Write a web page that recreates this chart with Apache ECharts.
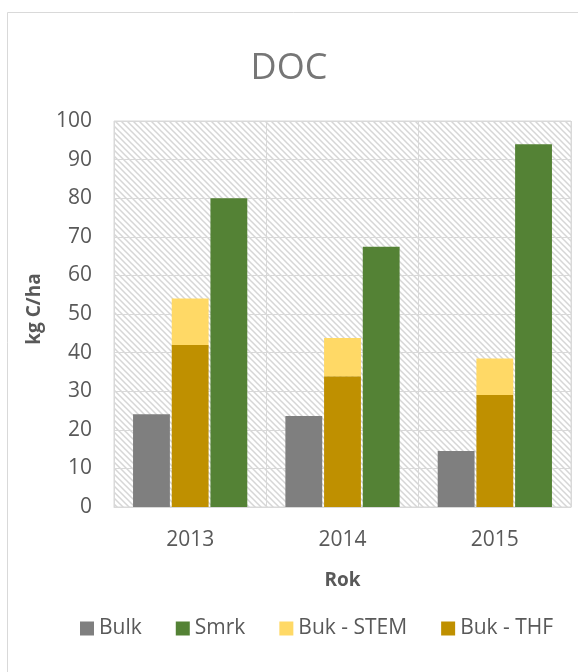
<!DOCTYPE html>
<html>
<head>
<meta charset="utf-8">
<title>DOC</title>
<script src="https://cdn.jsdelivr.net/npm/echarts@6/dist/echarts.min.js"></script>
<style>
  html, body { margin: 0; padding: 0; background: #ffffff; }
  #chart { width: 578px; height: 672px; }
</style>
</head>
<body>
<div id="chart"></div>
<script>
// Years on the category axis
var years = ['2013', '2014', '2015'];

// DOC flux, kg C/ha
var bulk = [24.0, 23.6, 14.5];
var smrk = [80.0, 67.4, 94.0];
var bukThf = [42.0, 33.9, 29.0];
var bukStem = [12.0, 9.9, 9.5];   // stacked on top of THF

// Value axis ticks
var yMin = 0;
var yMax = 100;
var yStep = 10;

var legendOrder = ['Bulk', 'Smrk', 'Buk - STEM', 'Buk - THF'];

// Diagonal hatch used as the plot-area fill
function hatchTile() {
  var size = 6;
  var c = document.createElement('canvas');
  c.width = size;
  c.height = size;
  var ctx = c.getContext('2d');
  ctx.fillStyle = '#ffffff';
  ctx.fillRect(0, 0, size, size);
  ctx.strokeStyle = '#d6d6d6';
  ctx.lineWidth = 1.5;
  ctx.beginPath();
  ctx.moveTo(-1, -1); ctx.lineTo(size + 1, size + 1);
  ctx.moveTo(-1, size - 1); ctx.lineTo(1, size + 1);
  ctx.moveTo(size - 1, -1); ctx.lineTo(size + 1, 1);
  ctx.stroke();
  return c;
}

var font = '"Open Sans", "Noto Sans", sans-serif';
var chart = echarts.init(document.getElementById('chart'), null, { renderer: 'canvas' });

chart.setOption({
  animation: false,
  backgroundColor: '#ffffff',
  textStyle: { fontFamily: font },
  graphic: [{
    type: 'rect',
    silent: true,
    z: -10,
    shape: { x: 7.5, y: 12.5, width: 700, height: 700 },
    style: { fill: 'none', stroke: '#d9d9d9', lineWidth: 1 }
  }],
  title: {
    text: 'DOC',
    left: 'center',
    top: 46,
    textStyle: { fontFamily: font, fontSize: 36, fontWeight: 'normal', color: '#767676' }
  },
  legend: {
    data: legendOrder,
    left: 80,
    top: 618,
    padding: 0,
    icon: 'rect',
    itemWidth: 14,
    itemHeight: 14,
    itemGap: 34,
    textStyle: { fontFamily: font, fontSize: 21, color: '#595959' }
  },
  grid: {
    left: 114,
    right: 7,
    top: 121,
    bottom: 165,
    show: true,
    backgroundColor: { image: hatchTile(), repeat: 'repeat' },
    borderColor: '#d9d9d9',
    borderWidth: 1
  },
  xAxis: {
    type: 'category',
    data: years,
    name: 'Rok',
    nameLocation: 'middle',
    nameGap: 64,
    nameTextStyle: { fontFamily: font, fontSize: 19, fontWeight: 'bold', color: '#595959' },
    axisLine: { show: true, lineStyle: { color: '#d9d9d9', width: 1 } },
    axisTick: { show: false },
    axisLabel: { margin: 23, fontFamily: font, fontSize: 21, color: '#595959' },
    splitLine: { show: true, lineStyle: { color: '#d9d9d9', width: 1 } }
  },
  yAxis: {
    type: 'value',
    min: yMin,
    max: yMax,
    interval: yStep,
    name: 'kg C/ha',
    nameLocation: 'middle',
    nameGap: 70,
    nameRotate: 90,
    nameTextStyle: { fontFamily: font, fontSize: 19, fontWeight: 'bold', color: '#595959', padding: [0, 0, 0, 10] },
    axisLine: { show: false },
    axisTick: { show: false },
    axisLabel: { margin: 22, fontFamily: font, fontSize: 21, color: '#595959' },
    splitLine: { show: true, lineStyle: { color: '#d9d9d9', width: 1 } }
  },
  series: [
    {
      name: 'Bulk',
      type: 'bar',
      data: bulk,
      barGap: '5%',
      barCategoryGap: '25%',
      itemStyle: { color: '#7f7f7f' }
    },
    {
      name: 'Buk - THF',
      type: 'bar',
      stack: 'buk',
      data: bukThf,
      itemStyle: { color: '#bf9000' }
    },
    {
      name: 'Buk - STEM',
      type: 'bar',
      stack: 'buk',
      data: bukStem,
      itemStyle: { color: '#ffd966' }
    },
    {
      name: 'Smrk',
      type: 'bar',
      data: smrk,
      itemStyle: { color: '#548235' }
    }
  ]
});
</script>
</body>
</html>
